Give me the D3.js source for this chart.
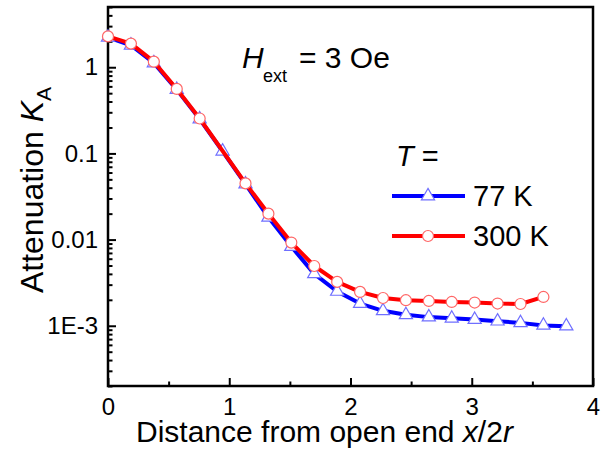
<!DOCTYPE html>
<html>
<head>
<meta charset="utf-8">
<script src="https://cdn.jsdelivr.net/npm/d3@7"></script>
<style>
  body { margin: 0; background: #fff; }
  svg { font-family: "Liberation Sans", Arial, sans-serif; }
</style>
</head>
<body>
<div id="chart"></div>
<script>
// data
let xBlue = [0, 0.189, 0.378, 0.567, 0.756, 0.945, 1.134, 1.323, 1.512, 1.701, 1.89,
    2.079, 2.268, 2.457, 2.646, 2.835, 3.024, 3.213, 3.402, 3.591, 3.78];
let kBlue = [2.22, 1.80, 1.12, 0.55, 0.25, 0.106, 0.044, 0.0181, 0.0083, 0.0040, 0.0025,
    0.00181, 0.00149, 0.00134, 0.00126, 0.00122, 0.00118, 0.00113, 0.00108, 0.00101, 0.00099];

let xRed = [0, 0.189, 0.378, 0.567, 0.756, 1.134, 1.323, 1.512, 1.701, 1.89,
    2.079, 2.268, 2.457, 2.646, 2.835, 3.024, 3.213, 3.402, 3.591];
let kRed = [2.28, 1.88, 1.16, 0.56, 0.254, 0.0449, 0.020, 0.00923, 0.00494, 0.00323,
    0.00247, 0.0021, 0.00198, 0.00194, 0.00189, 0.00186, 0.00181, 0.00179, 0.00216];

let xTicks = [0, 1, 2, 3, 4];
let xMinor = [0.5, 1.5, 2.5, 3.5];
let yTicks = [1e-3, 1e-2, 0.1, 1];
let yTickLabels = ["1E-3", "0.01", "0.1", "1"];

let series = [
    {name: "77 K", xs: xBlue, ys: kBlue, color: "#0000ff", markColor: "#6f6fff", shape: "tri"},
    {name: "300 K", xs: xRed, ys: kRed, color: "#ff0000", markColor: "#ff6666", shape: "circ"}
];

let width = 609, height = 450;
let plot = {left: 108, right: 593, top: 7, bottom: 386};

let svg = d3.select("#chart").append("svg")
    .attr("width", width)
    .attr("height", height);

let x = d3.scaleLinear().domain([0, 4]).range([plot.left, plot.right]);
let y = d3.scaleLog().domain([2e-4, 5]).range([plot.bottom, plot.top]);

// minor y ticks (2..9 per decade)
let yMinor = [];
[1e-4, 1e-3, 1e-2, 0.1, 1].forEach(dec => {
    for (let m = 2; m <= 9; m++) {
        let v = dec * m;
        if (v >= 2e-4 && v <= 5) yMinor.push(v);
    }
});

// axes
svg.append("g")
    .attr("transform", `translate(0,${plot.bottom})`)
    .call(d3.axisBottom(x).tickValues(xMinor).tickSize(-4.5).tickFormat(""))
    .call(g => g.select(".domain").remove())
    .selectAll("line").attr("stroke-width", 2);

svg.append("g")
    .attr("transform", `translate(0,${plot.bottom})`)
    .call(d3.axisBottom(x).tickValues(xTicks).tickSize(-8).tickPadding(12).tickFormat(d3.format("d")))
    .call(g => g.select(".domain").remove())
    .call(g => g.selectAll("line").attr("stroke-width", 2))
    .selectAll("text")
    .attr("font-size", 24)
    .attr("font-family", "Liberation Sans, Arial, sans-serif")
    .attr("fill", "#000");

svg.append("g")
    .attr("transform", `translate(${plot.left},0)`)
    .call(d3.axisLeft(y).tickValues(yMinor).tickSize(-4.5).tickFormat(""))
    .call(g => g.select(".domain").remove())
    .selectAll("line").attr("stroke-width", 2);

svg.append("g")
    .attr("transform", `translate(${plot.left},0)`)
    .call(d3.axisLeft(y).tickValues(yTicks).tickSize(-8).tickPadding(10)
        .tickFormat((d, i) => yTickLabels[i]))
    .call(g => g.select(".domain").remove())
    .call(g => g.selectAll("line").attr("stroke-width", 2))
    .selectAll("text")
    .attr("font-size", 24)
    .attr("font-family", "Liberation Sans, Arial, sans-serif")
    .attr("fill", "#000");

// frame
svg.append("rect")
    .attr("x", plot.left)
    .attr("y", plot.top)
    .attr("width", plot.right - plot.left)
    .attr("height", plot.bottom - plot.top)
    .attr("fill", "none")
    .attr("stroke", "#000")
    .attr("stroke-width", 2.5);

// lines + markers
let line = d3.line()
    .x(d => x(d[0]))
    .y(d => y(d[1]));

let tri = d3.symbol().type(d3.symbolTriangle).size(75);

function drawMarker(g, s, px, py) {
    if (s.shape === "tri") {
        g.append("path")
            .attr("d", tri())
            .attr("transform", `translate(${px},${py})`)
            .attr("fill", "#fff")
            .attr("stroke", s.markColor)
            .attr("stroke-width", 1.2);
    } else {
        g.append("circle")
            .attr("cx", px).attr("cy", py).attr("r", 5.5)
            .attr("fill", "#fff")
            .attr("stroke", s.markColor)
            .attr("stroke-width", 1.2);
    }
}

series.forEach(s => {
    let pts = s.xs.map((v, i) => [v, s.ys[i]]);
    let g = svg.append("g");
    g.append("path")
        .datum(pts)
        .attr("d", line)
        .attr("fill", "none")
        .attr("stroke", s.color)
        .attr("stroke-width", 4)
        .attr("stroke-linejoin", "round");
    pts.forEach(p => drawMarker(g, s, x(p[0]), y(p[1])));
});

// annotation H_ext = 3 Oe
svg.append("text").attr("x", 242).attr("y", 68)
    .attr("font-size", 30).attr("font-style", "italic").text("H");
svg.append("text").attr("x", 263).attr("y", 82)
    .attr("font-size", 18).text("ext");
svg.append("text").attr("x", 299).attr("y", 68)
    .attr("font-size", 30).text("= 3 Oe");

// legend
svg.append("text").attr("x", 396).attr("y", 166)
    .attr("font-size", 29)
    .call(t => t.append("tspan").attr("font-style", "italic").text("T"))
    .call(t => t.append("tspan").text(" ="));

series.forEach((s, i) => {
    let ly = 196 + i * 40;
    let g = svg.append("g");
    g.append("line")
        .attr("x1", 392).attr("x2", 465)
        .attr("y1", ly).attr("y2", ly)
        .attr("stroke", s.color)
        .attr("stroke-width", 4);
    drawMarker(g, s, 428, ly);
    g.append("text")
        .attr("x", 473).attr("y", ly + 10)
        .attr("font-size", 29)
        .text(s.name);
});

// axis titles
svg.append("text")
    .attr("x", 136).attr("y", 442)
    .attr("font-size", 30)
    .call(t => t.append("tspan").text("Distance from open end "))
    .call(t => t.append("tspan").attr("font-style", "italic").text("x"))
    .call(t => t.append("tspan").text("/2"))
    .call(t => t.append("tspan").attr("font-style", "italic").text("r"));

svg.append("text")
    .attr("transform", "translate(43,190) rotate(-90)")
    .attr("text-anchor", "middle")
    .attr("font-size", 32)
    .call(t => t.append("tspan").text("Attenuation "))
    .call(t => t.append("tspan").attr("font-style", "italic").text("K"))
    .call(t => t.append("tspan").attr("font-size", 21).attr("dy", 8).text("A"));
</script>
</body>
</html>
